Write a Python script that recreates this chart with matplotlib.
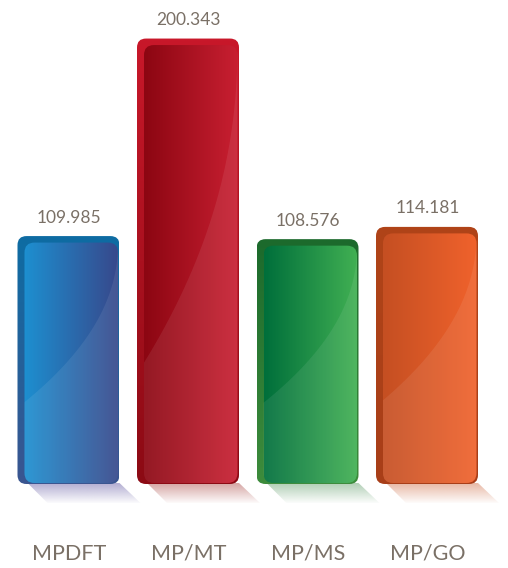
import numpy as np
import matplotlib
matplotlib.use('Agg')
import matplotlib.pyplot as plt
from matplotlib.patches import FancyBboxPatch, Polygon
from matplotlib.colors import to_rgb

categories = ['MPDFT', 'MP/MT', 'MP/MS', 'MP/GO']
values = [109.985, 200.343, 108.576, 114.181]
value_labels = ['109.985', '200.343', '108.576', '114.181']

inner_left = ['#1d8fd0', '#8c0612', '#006f3b', '#c54f22']
inner_right = ['#37498c', '#c81f31', '#41b053', '#f0622c']
outer_top = ['#0e6ca3', '#c8182a', '#1c6a2c', '#b04418']
outer_bottom = ['#3a5590', '#8c0a14', '#3d8c3c', '#a83e18']
shadow_col = ['#b3aed2', '#d6a6a4', '#b2cfb6', '#e8b9a6']
text_col = '#7a7066'

W, H = 508, 568
fig = plt.figure(figsize=(W / 100, H / 100), dpi=100)
ax = fig.add_axes([0, 0, 1, 1])
px_x = 119.5   # pixels per x unit
px_y = 2.186   # pixels per value unit
ax.set_xlim(-69 / px_x, (W - 69) / px_x)
ax.set_ylim(-(H - 483) / px_y, 483 / px_y)
ax.axis('off')

def dx(p):
    return p / px_x

def dy(p):
    return p / px_y

aspect = px_x / px_y
fam = ['Lato', 'DejaVu Sans']

def grad_image(c0, c1, horizontal=True, n=64, alpha=None):
    a = np.array(to_rgb(c0)); b = np.array(to_rgb(c1))
    t = np.linspace(0, 1, n)[:, None]
    cols = a * (1 - t) + b * t
    if alpha is not None:
        al = alpha[0] * (1 - t) + alpha[1] * t
        cols = np.concatenate([cols, al], axis=1)
    if horizontal:
        return cols[None, :, :]
    return cols[:, None, :]

for i, v in enumerate(values):
    ox0 = i - dx(51.5)
    ox1 = i + dx(50.5)
    oy0 = -dy(1)
    oy1 = v + dy(6.5)
    # shadow
    sh = Polygon([(ox0 + dx(10), 0), (ox1, 0), (ox1 + dx(21), -dy(20)), (ox0 + dx(30), -dy(20))],
                 closed=True, facecolor='none', edgecolor='none', zorder=1)
    ax.add_patch(sh)
    img = grad_image(shadow_col[i], shadow_col[i], horizontal=False, alpha=(0.05, 1.0))
    im = ax.imshow(img, extent=(ox0, ox1 + dx(22), -dy(20), 0), origin='lower',
                   aspect='auto', interpolation='bilinear', zorder=1)
    im.set_clip_path(sh)
    # outer frame
    outer = FancyBboxPatch((ox0, oy0), ox1 - ox0, oy1 - oy0,
                           boxstyle=f"round,pad=0,rounding_size={dx(9)}",
                           mutation_aspect=aspect, facecolor='none', edgecolor='none', zorder=2)
    ax.add_patch(outer)
    img = grad_image(outer_bottom[i], outer_top[i], horizontal=False)
    im = ax.imshow(img, extent=(ox0, ox1, oy0, oy1), origin='lower',
                   aspect='auto', interpolation='bilinear', zorder=2)
    im.set_clip_path(outer)
    # inner face
    ix0 = ox0 + dx(7)
    ix1 = ox1 - dx(1.5)
    inner = FancyBboxPatch((ix0, 0), ix1 - ix0, v,
                           boxstyle=f"round,pad=0,rounding_size={dx(10)}",
                           mutation_aspect=aspect, facecolor='none', edgecolor='none', zorder=3)
    ax.add_patch(inner)
    img = grad_image(inner_left[i], inner_right[i], horizontal=True)
    im = ax.imshow(img, extent=(ix0, ix1, 0, v), origin='lower',
                   aspect='auto', interpolation='bilinear', zorder=3)
    im.set_clip_path(inner)
    # gloss
    y_end = 0.2 * v + 15
    t = np.linspace(0, 1, 60)
    cx = ix1 - (ix1 - ix0) * t ** 2.1
    cy = v - t * (v - y_end)
    pts = list(zip(cx, cy)) + [(ix0 - dx(2), y_end), (ix0 - dx(2), -1), (ix1 + dx(2), -1), (ix1 + dx(2), v)]
    gl = Polygon(pts, closed=True, facecolor='white', alpha=0.08, edgecolor='none', zorder=4)
    ax.add_patch(gl)
    gl.set_clip_path(inner)
    # labels
    ax.annotate(value_labels[i], xy=(i, v), xytext=(0, 18), textcoords='offset points',
                ha='center', va='center', fontsize=12.5, color=text_col, family=fam)
    ax.annotate(categories[i], xy=(i, 0), xytext=(0, -51), textcoords='offset points',
                ha='center', va='center', fontsize=15.5, color=text_col, family=fam)

fig.savefig('out.png', dpi=100, facecolor='white')
